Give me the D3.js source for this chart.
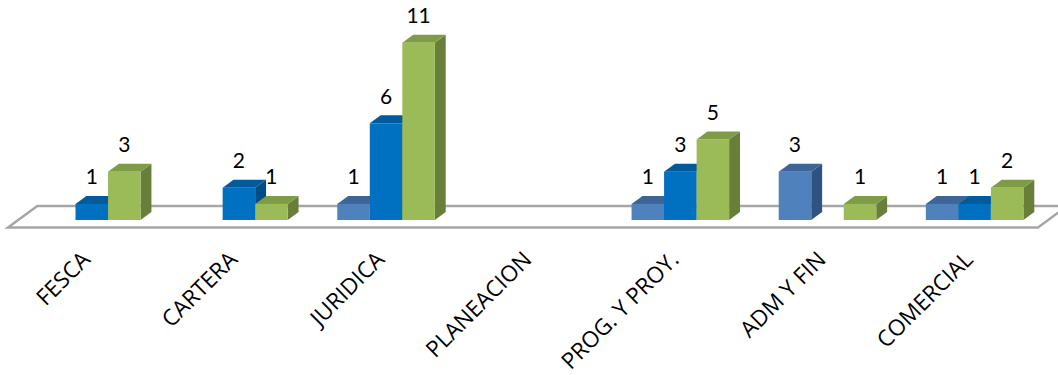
<!DOCTYPE html>
<html>
<head>
<meta charset="utf-8">
<script src="https://cdn.jsdelivr.net/npm/d3@7"></script>
<style>
  html, body { margin: 0; padding: 0; background: #fff; }
  svg { display: block; }
</style>
</head>
<body>
<svg id="chart" width="1058" height="375"></svg>
<script>
// Categories (areas) and the three series counts per area
const categories = ["FESCA", "CARTERA", "JURIDICA", "PLANEACION", "PROG. Y PROY.", "ADM Y FIN", "COMERCIAL"];
const serie1 = [null, null, 1, null, 1, 3, 1];
const serie2 = [1, 2, 6, null, 3, null, 1];
const serie3 = [3, 1, 11, null, 5, 1, 2];
const seriesNames = ["Serie 1", "Serie 2", "Serie 3"];

// Face colours for each series: front, top, side
const palette = [
  { front: "#4F81BD", top: "#3D6696", side: "#2F5380" },
  { front: "#0070C0", top: "#005A9B", side: "#004C85" },
  { front: "#9BBB59", top: "#7E9B46", side: "#687F39" }
];

const svg = d3.select("#chart");

// Oblique projection settings
const slope = 1.36;          // horizontal shift per pixel of depth
const floorFrontY = 227.5;   // front edge of the floor
const floorDepth = 21.5;     // floor depth (vertical pixels)
const barDepthStart = 7.5;   // where bars sit inside the floor depth
const barDepth = 8;          // bar depth (vertical pixels)
const floorLeft = 8, floorRight = 1038;

const baseY = floorFrontY - barDepthStart;          // bar base on the front plane
const shiftX = barDepthStart * slope;

const x0 = d3.scaleBand()
  .domain(categories)
  .range([floorLeft + shiftX, floorRight + shiftX])
  .paddingInner(0.337)
  .paddingOuter(0.1685);

const x1 = d3.scaleBand()
  .domain(seriesNames)
  .range([0, x0.bandwidth()]);

const y = d3.scaleLinear()
  .domain([0, 12])
  .range([baseY, baseY - 12 * 16.12]);

// Floor
const fdx = floorDepth * slope;
svg.append("polygon")
  .attr("points", [
    [floorLeft, floorFrontY],
    [floorLeft + fdx, floorFrontY - floorDepth],
    [floorRight + fdx, floorFrontY - floorDepth],
    [floorRight, floorFrontY]
  ].map(p => p.join(",")).join(" "))
  .attr("fill", "#fff")
  .attr("stroke", "#A6A6A6")
  .attr("stroke-width", 2.5)
  .attr("stroke-linejoin", "miter");

// Bars, drawn left to right so each bar covers the side of the one before
const data = [];
categories.forEach((c, i) => {
  [serie1, serie2, serie3].forEach((s, k) => {
    if (s[i] != null && s[i] > 0) data.push({ cat: c, series: seriesNames[k], k, value: s[i] });
  });
});

const bdx = barDepth * slope, bdy = -barDepth;
const bars = svg.append("g").selectAll("g").data(data).join("g");

bars.each(function (d) {
  const g = d3.select(this);
  const x = x0(d.cat) + x1(d.series);
  const w = x1.bandwidth();
  const yt = y(d.value), yb = y(0);
  const col = palette[d.k];
  const pts = a => a.map(p => p.join(",")).join(" ");
  g.append("polygon")
    .attr("points", pts([[x + w, yt], [x + w + bdx, yt + bdy], [x + w + bdx, yb + bdy], [x + w, yb]]))
    .attr("fill", col.side);
  g.append("polygon")
    .attr("points", pts([[x, yt], [x + bdx, yt + bdy], [x + w + bdx, yt + bdy], [x + w, yt]]))
    .attr("fill", col.top);
  g.append("rect")
    .attr("x", x).attr("y", yt)
    .attr("width", w).attr("height", yb - yt)
    .attr("fill", col.front);
});

// Value labels
svg.append("g").selectAll("text").data(data).join("text")
  .attr("x", d => x0(d.cat) + x1(d.series) + x1.bandwidth() / 2)
  .attr("y", d => y(d.value) - 19.5)
  .attr("text-anchor", "middle")
  .attr("font-family", "Lato, 'Open Sans', sans-serif")
  .attr("font-size", 21)
  .attr("fill", "#000")
  .text(d => d.value);

// Category labels, rotated
svg.append("g").selectAll("text").data(categories).join("text")
  .attr("transform", c => `translate(${x0(c) + x0.bandwidth() / 2 - shiftX + 10},261) rotate(-45)`)
  .attr("text-anchor", "end")
  .attr("font-family", "'Open Sans', sans-serif")
  .attr("font-size", 22.5)
  .attr("fill", "#000")
  .text(c => c);
</script>
</body>
</html>
